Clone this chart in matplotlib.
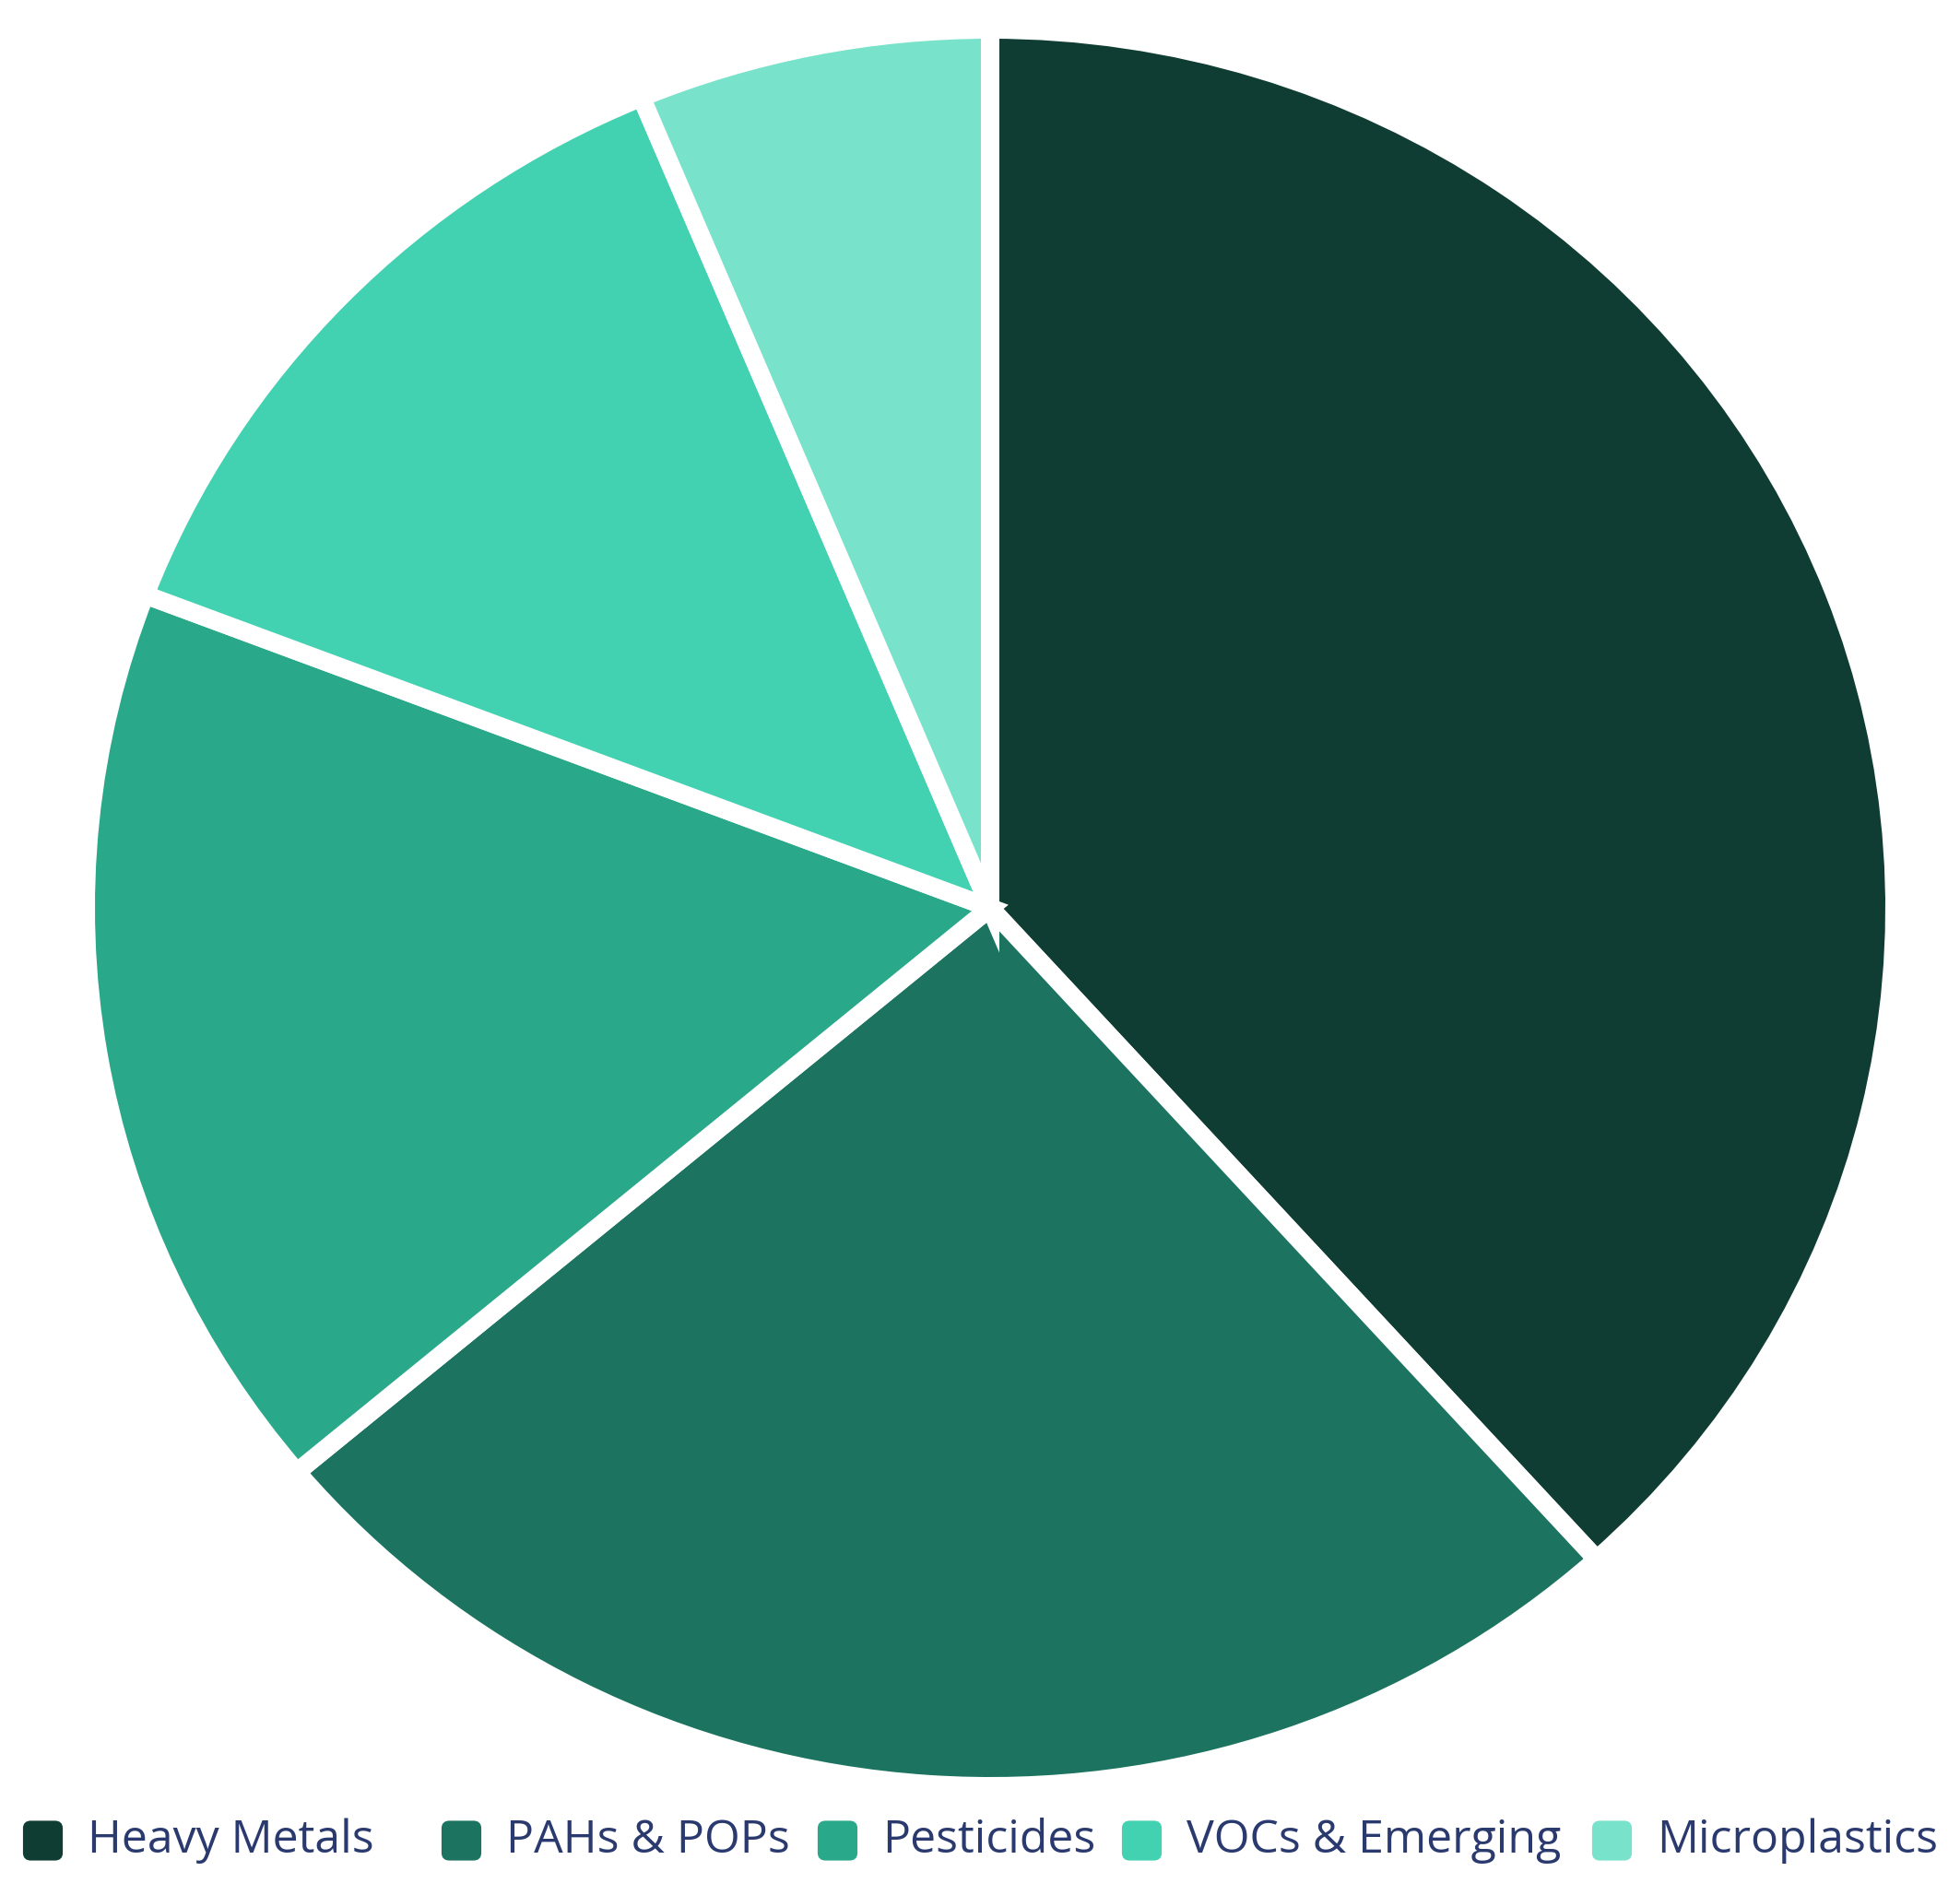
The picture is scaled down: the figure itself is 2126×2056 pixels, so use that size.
import numpy as np
import matplotlib
matplotlib.use('Agg')
import matplotlib.pyplot as plt
from matplotlib.patches import FancyBboxPatch

# data
categories = ['Heavy Metals', 'PAHs & POPs', 'Pesticides', 'VOCs & Emerging', 'Microplastics']
shares = [38.3, 25.6, 16.9, 12.9, 6.3]
colors = ['#0f3d33', '#1b7360', '#29a88a', '#42d1b1', '#78e2ca']

W, H = 2126, 2056
plt.rcParams['font.family'] = ['Open Sans', 'DejaVu Sans']
fig = plt.figure(figsize=(W / 100, H / 100), dpi=100, facecolor='white')

# pie (slightly elliptical like the reference)
cx, cy = 1074, 985
rx, ry = 971 + 10, 943 + 10
ax = fig.add_axes([(cx - rx) / W, (H - cy - ry) / H, 2 * rx / W, 2 * ry / H])
ax.pie(shares, colors=colors, startangle=90, counterclock=False,
       wedgeprops=dict(edgecolor='white', linewidth=14.4))
ax.set_aspect('auto')
ax.set_xlim(-1, 1)
ax.set_ylim(-1, 1)
ax.axis('off')

# legend, laid out by hand
sq_x = [23, 477, 885, 1215, 1725]
leg_y = 1997
sq = 47
for x, name, c in zip(sq_x, categories, colors):
    p = FancyBboxPatch(((x + 4) / W, (H - leg_y - sq / 2 + 4) / H),
                       (sq - 8) / W, (sq - 8) / H,
                       boxstyle='round,pad=0.0,rounding_size=0.003',
                       transform=fig.transFigure, facecolor=c, edgecolor=c,
                       linewidth=3)
    fig.patches.append(p)
    fig.text((x + 72) / W, (H - leg_y) / H, name, fontsize=36,
             color='#2a3a6e', va='center', ha='left')

fig.savefig('out.png', dpi=100, facecolor='white')
